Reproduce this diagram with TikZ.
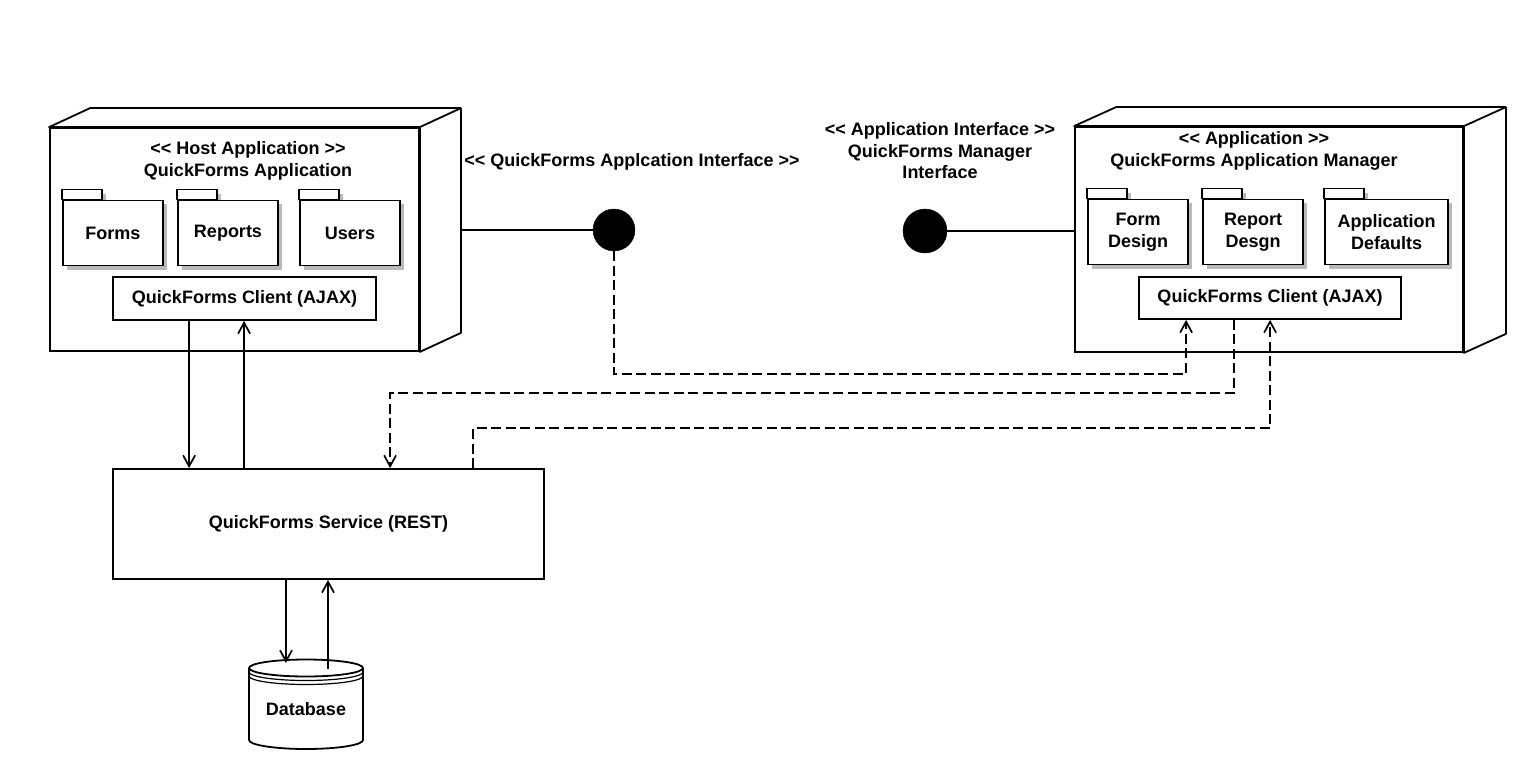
\documentclass[tikz,border=0pt]{standalone}
\usepackage{fontspec}
\setmainfont{Liberation Sans}
\usetikzlibrary{arrows.meta,calc,shadows}
\newcommand\lguil{<\kern0pt<}
\newcommand\rguil{>\kern0pt>}
\begin{document}
\begin{tikzpicture}[x=1pt,y=-1pt,
  every node/.style={font=\fontsize{18}{21.5}\selectfont\bfseries, inner sep=0pt, align=center},
  ln/.style={line width=1.8pt, draw=black},
  frontbox/.style={ln, fill=white, rectangle},
  pkgbody/.style={ln, fill=white, rectangle, minimum height=65pt,
    drop shadow={shadow xshift=4pt, shadow yshift=-4pt, fill=black!27, opacity=1}},
  clientbox/.style={ln, fill=white, rectangle},
  lolli/.style={circle, fill=black, draw=black, minimum size=42pt},
  conn/.style={line width=1.7pt},
  dsh/.style={conn, dash pattern=on 10pt off 4.5pt},
  tip/.style={-{Straight Barb[length=11pt,width=12pt]}}
]
\useasboundingbox (0,0) rectangle (1525,770);

% ---------- host node (3D box) ----------
\node[frontbox, minimum width=369pt, minimum height=223pt] (host) at (234.5,239.5) {};
\draw[ln, line join=round, fill=white] (host.north west) -- ++(41,-19) -- ($(host.north east)+(41,-19)$)
  -- ($(host.south east)+(41,-19)$) -- (host.south east) -- (host.north east) -- cycle;
\draw[ln] (host.north east) -- ++(41,-19);
\coordinate (hostback) at ($(host.north east)+(41,0)$);
\node (hosttitle) at (248,161) {\lguil{} Host Application \rguil\\QuickForms Application};

% packages host
\node[pkgbody, minimum width=100pt] (forms) at (113,233) {Forms};
\node[pkgbody, minimum width=100pt] (reports) at (228,233) {Reports};
\node[pkgbody, minimum width=100pt] (users) at (350,233) {Users};
\foreach \p in {forms,reports,users}{
  \fill[black!27] ($(\p.north west)+(40,-6)$) rectangle ($(\p.north west)+(44,0)$);
  \draw[ln, fill=white] (\p.north west) rectangle ($(\p.north west)+(40,-10)$);
}
\node[clientbox, minimum width=263pt, minimum height=43pt] (hclient) at (244.5,298.5) {QuickForms Client (AJAX)};

% ---------- manager node (3D box) ----------
\node[frontbox, minimum width=388pt, minimum height=225pt] (mgr) at (1269,239.5) {};
\draw[ln, line join=round, fill=white] (mgr.north west) -- ++(42,-19) -- ($(mgr.north east)+(42,-19)$)
  -- ($(mgr.south east)+(42,-19)$) -- (mgr.south east) -- (mgr.north east) -- cycle;
\draw[ln] (mgr.north east) -- ++(42,-19);
\node (mgrtitle) at (1254,151) {\lguil{} Application \rguil\\QuickForms Application Manager};

\node[pkgbody, minimum width=100pt] (formdesign) at (1138,232) {Form\\Design};
\node[pkgbody, minimum width=100pt] (reportdesign) at (1253,232) {Report\\Desgn};
\node[pkgbody, minimum width=123pt] (appdefaults) at (1386.5,232) {Application\\Defaults};
\foreach \p in {formdesign,reportdesign,appdefaults}{
  \fill[black!27] ($(\p.north west)+(40,-6)$) rectangle ($(\p.north west)+(44,0)$);
  \draw[ln, fill=white] (\p.north west) rectangle ($(\p.north west)+(40,-10)$);
}
\node[clientbox, minimum width=262pt, minimum height=42pt] (mclient) at (1270,298) {QuickForms Client (AJAX)};

% ---------- interfaces ----------
\node (ilabel) at (632,162) {\lguil{} QuickForms Applcation Interface \rguil};
\node (mlabel) at (940,151) {\lguil{} Application Interface \rguil\\QuickForms Manager\\Interface};
\node[lolli] (lcirc) at (614,230) {};
\node[lolli, minimum size=44pt] (rcirc) at (925,231) {};
\draw[conn] (hostback |- lcirc) -- (lcirc);
\draw[conn] (rcirc) -- (mgr.west |- rcirc);

% ---------- service ----------
\node[frontbox, minimum width=431pt, minimum height=110pt] (svc) at (328.5,524) {QuickForms Service (REST)};

% ---------- database ----------
\coordinate (dbtop) at (306,668);
\draw[ln, fill=white] (249,668) -- (249,740) arc[start angle=180, end angle=360, x radius=57pt, y radius=9pt] -- (363,668);
\draw[ln, fill=white] (dbtop) ellipse [x radius=57pt, y radius=8.5pt];
\draw[line width=1.2pt] (249,672) arc[start angle=180, end angle=360, x radius=57pt, y radius=8.5pt];
\draw[line width=1.2pt] (249,676) arc[start angle=180, end angle=360, x radius=57pt, y radius=8.5pt];
\node (db) at (306,709) {Database};

% ---------- solid connectors ----------
\coordinate (hc1) at ($(hclient.south west)+(77,0)$);
\coordinate (hc2) at ($(hclient.south west)+(132,0)$);
\draw[conn, tip] (hc1) -- (hc1 |- svc.north);
\draw[conn, tip] (hc2 |- svc.north) -- (hc2);
\coordinate (db1) at (286,663);
\coordinate (db2) at (328,669);
\draw[conn, tip] (db1 |- svc.south) -- (db1);
\draw[conn, tip] (db2) -- (db2 |- svc.south);

% ---------- dashed connectors ----------
\coordinate (mc1) at ($(mclient.south west)+(48,0)$);
\coordinate (mc2) at ($(mclient.south west)+(96,0)$);
\coordinate (mc3) at ($(mclient.south west)+(132,0)$);
\coordinate (sv1) at ($(svc.north west)+(278,0)$);
\coordinate (sv2) at ($(svc.north west)+(361,0)$);
\coordinate (rail1) at (0,374);
\coordinate (rail2) at (0,393);
\coordinate (rail3) at (0,428);
\draw[dsh, tip] (lcirc.south) -- (lcirc.south |- rail1) -| (mc1);
\draw[dsh, tip] (mc2) -- (mc2 |- rail2) -| (sv1);
\draw[dsh, tip] (sv2) -- (sv2 |- rail3) -| (mc3);
\end{tikzpicture}
\end{document}
